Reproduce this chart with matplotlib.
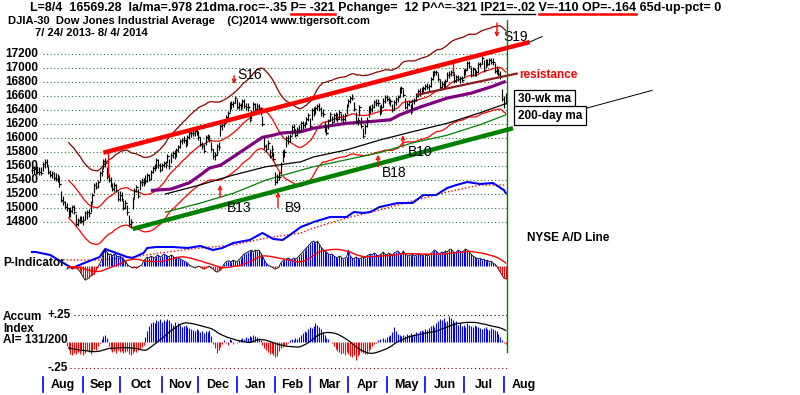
import numpy as np
import pandas as pd
import matplotlib
matplotlib.use('Agg')
import matplotlib.pyplot as plt
from matplotlib.lines import Line2D
from matplotlib.font_manager import FontProperties
from matplotlib.transforms import blended_transform_factory as btf

# ---------------- data (trading-day index 0 = 7/24/2013) ----------------
closes = [
15542,15555,15559,15521,15520,15500,15628,15658,15612,15518,15470,15498,15425,15419,15451,15337,15112,15081,15010,15002,
14897,14963,15010,14946,14776,14824,14840,14810,14834,14930,14937,14922,15063,15191,15326,15300,15376,15494,15529,15676,
15636,15451,15401,15334,15273,15328,15258,15129,15191,15133,14996,15072,14936,14776,14802,15126,15237,15301,15168,15373,
15371,15399,15392,15467,15413,15509,15570,15568,15680,15618,15546,15615,15639,15618,15747,15593,15762,15783,15751,15822,
15876,15962,15976,15968,15900,16010,16065,16073,16072,16098,16086,16008,15915,15889,15821,16020,16026,15973,15844,15739,
15755,15884,15875,16168,16179,16221,16294,16358,16479,16479,16505,16577,16441,16470,16425,16530,16462,16444,16437,16257,
16374,16482,16418,16459,16414,16374,16197,15879,15838,15929,15739,15849,15699,15373,15445,15441,15628,15795,15801,15994,
15964,16027,16154,16130,16041,16133,16104,16208,16180,16199,16273,16322,16168,16396,16361,16422,16453,16419,16351,16341,
16109,16066,16247,16337,16223,16332,16303,16276,16368,16269,16265,16323,16458,16533,16573,16572,16413,16246,16257,16438,
16170,16027,16174,16263,16425,16409,16449,16514,16502,16501,16361,16449,16535,16581,16559,16513,16531,16402,16519,16551,
16584,16696,16716,16614,16447,16492,16512,16374,16533,16543,16606,16676,16634,16699,16717,16743,16723,16738,16836,16924,
16943,16946,16844,16735,16776,16781,16808,16906,16921,16948,16937,16819,16868,16846,16851,16827,16956,16976,17068,17025,
16906,16985,16915,16944,17055,17061,17138,16977,17100,17052,17114,17087,17083,16961,16983,16913,16880,16563,16493,16569]

# daily high above close / low below close, in units of 15 points
hi_off15 = [
4,3,2,5,4,6,2,3,6,5,5,2,6,5,2,7,9,6,6,5, 7,3,2,6,9,2,3,5,3,2,2,4,2,2,2,5,2,2,3,2,
5,9,6,7,6,3,6,8,3,6,8,3,7,8,3,2,3,2,7,2, 4,2,5,2,5,2,2,4,2,5,6,2,2,4,2,7,2,2,5,2,
2,2,2,4,6,2,2,2,4,2,4,6,7,4,6,2,2,5,7,7, 3,2,5,2,2,2,2,2,2,3,2,2,8,3,5,2,6,4,4,8,
2,2,5,3,5,5,8,9,5,3,7,3,7,9,3,5,2,2,3,2, 5,2,2,5,6,2,5,2,4,2,2,2,8,2,5,2,2,5,6,5,
9,7,2,2,6,2,5,5,2,6,5,2,2,2,2,4,7,8,3,2, 9,8,2,2,2,4,2,2,4,4,7,2,2,2,4,5,2,6,2,2,
2,2,2,6,8,2,2,7,2,2,2,2,5,2,2,2,4,2,2,2, 2,2,6,7,3,2,2,2,2,2,4,7,2,4,2,4,2,2,2,5,
7,2,6,2,2,2,2,9,2,5,2,4,4,7,3,5,5,9,7,5]
lo_off15 = [
4,5,5,2,3,2,7,6,2,2,2,5,2,2,5,2,2,3,2,3, 2,6,5,2,2,5,4,2,5,7,6,3,8,8,7,2,6,7,5,8,
3,2,2,2,2,6,2,2,6,2,2,6,2,2,6,9,6,5,2,8, 4,6,3,6,2,7,5,3,7,3,2,5,4,3,7,2,8,5,3,6,
5,7,4,3,2,7,5,4,3,5,3,2,2,3,2,8,4,2,2,3, 5,8,3,9,4,4,5,5,7,4,4,5,2,4,2,6,2,3,3,2,
7,6,2,6,2,3,2,2,3,6,2,7,2,3,6,3,9,9,5,8, 3,6,7,3,2,7,2,6,3,4,5,5,2,9,3,5,4,2,2,3,
2,2,8,6,2,7,3,3,6,2,3,5,8,6,5,2,2,2,5,8, 2,2,8,7,8,3,5,6,3,3,2,6,6,5,2,2,5,2,7,5,
5,7,5,2,2,5,4,2,8,4,5,6,2,5,4,4,2,4,7,6, 4,3,2,2,5,4,5,6,4,4,2,2,5,2,4,2,7,5,6,2,
2,7,2,4,7,3,5,2,7,2,5,2,3,2,5,2,2,2,4,6]

p_indicator = [
-25,-50,-25,0,25,0,-25,25,50,25,0,-25,-50,-50,-25,-50,
-25,-50,-25,-75,-50,-25,-75,-50,-50,-75,
-125,-200,-275,-350,-325,-300,-250,-225,-200,
-100,-25,50, 150,300,400,350,
275,300,250,300,275,225,250,200,175,125,
50,0,-25,-50,-25,-50,-25,0,25,
125,175,225,200,250,225,200,250,275,225,250,300,275,250,225,275,250,200,225,200,175,150,125,100,75,
25,0,-25,-50,-25,0,-25,-50,-75,-50,-25,0,-50,
-75,-125,-150,-125,-100,-50,
50,100,125,125,100,150,125,100,150,
200,250,300,325,350,375,400,350,400,375,400,325,250,
150,75,25,0,-25,-50,-75,-50,-25,
75,125,150,175,200,175,150,200,175,200,250,
300,350,400,450,500,550,600,625,575,625,
550,475,425,375,350,300,275,300,250,
225,200,250,225,175,200,225,400,250,200,175,225,200,175,200,225,200,
250,275,300,275,325,300,250,275,300,350,300,275,325,300,275,325,350,375,325,300,
375,300,275,250,275,300,250,275,300,275,250,275,300,250,275,300,
350,400,375,325,300,350,325,375,350,400,425,375,325,350,400,375,350,375,425,400,350,300,
250,225,200,175,200,150,175,125,150,100,125,75,
50,0,-75,-150,-225,-300,-321]

accum_index_x100 = [
-5,-3,-6,-8,-4,-2,-5,-7,-9,-6,-4,-3,-5,-8,-10,-7,-6,-9,-8,
-4,-8,-12,-13,-11,-12,
-10,-12,-9,-13,-11,-8,-10,-12,-9,-7,-8,-4,-1,
2,5,6,3,
-4,-8,-10,-9,-11,-8,-10,-9,-11,-10,-9,-12,-13,
-11,-9,-10,-8,-7,-5,-3,
4,10,15,17,
18,17,20,19,21,18,20,19,21,20,
17,16,18,15,17,16,14,15,16,14,13,
12,11,10,12,11,9,10,8,10,9,11,
5,-2,-6,-11,-8,-5,
-2,1,-1,-3,2,1,-2,0,-1,1,
2,3,2,4,3,5,4,6,5,4,3,1,
-3,-6,-8,-10,-12,-11,-13,-15,-14,-9,
-6,-5,-4,-3,-1,1,2,1,3,2,4,
6,8,10,9,12,14,13,15,17,16,
14,12,9,6,3,2,0,-1,
-4,-7,-9,-10,-12,-11,-13,-10,-12,-14,-15,-13,-17,-14,-12,-10,-11,-12,
-12,-9,-7,-4,-2,
-1,1,2,0,3,2,4,5,
6,9,14,10,7,6,5,
6,5,7,6,8,6,7,9,8,10,11,10,12,11,13,15,
16,14,17,19,21,20,22,18,19,24,22,20,18,19,
16,17,15,16,14,17,16,15,14,16,15,14,13,
12,13,14,12,11,13,12,11,10,
7,4,1,-1,-2]

# NYSE A/D line (relative units) and its moving average
ad_day = [0,2,10,19,22,30,37,40,46,52,55,61,63,68,77,85,92,99,104,110,119,126,132,137,141,147,154,163,172,176,181,185,190,200,208,214,221,227,232,238,245,252,258,259]
ad_val = [18,18,15,5,2,8,13,21,17,13,12,17,22,23,23,22,24,20,22,27,30,37,31,30,35,43,48,53,53,58,57,58,63,67,67,75,75,82,85,88,86,87,80,77]
ad_ma_day = [19,37,55,74,92,110,128,147,154,172,190,208,227,245,259]
ad_ma_val = [10,10,13,18,22,25,32,37,42,52,60,69,78,85,85]

# longer moving averages
ma_purple_day = [65,76,86,92,97,103,110,118,126,132,136,147,154,172,183,196,201,212,227,240,252,259]
ma_purple_val = [15250,15270,15360,15470,15570,15610,15730,15870,16010,16040,16070,16090,16140,16210,16230,16260,16330,16440,16570,16640,16740,16810]
ma200_day = [73,92,110,128,147,154,172,190,208,227,245,259]
ma200_val = [15200,15330,15470,15590,15660,15730,15830,15970,16090,16210,16360,16490]
ma_green_day = [73,92,110,128,147,154,172,190,208,227,245,259]
ma_green_val = [14940,15070,15210,15400,15540,15590,15690,15790,15930,16040,16190,16330]

# trendlines (day, price)
upper_tl = ([39, 272], [15790, 17370])
upper_ext = ([272, 279], [17370, 17450])
lower_tl = ([55, 263], [14700, 16140])
lower_ext = ([270, 339], [16190, 16680])
resist_tl = ([211, 265], [16620, 16920])

price_ticks = [17200,17000,16800,16600,16400,16200,16000,15800,15600,15400,15200,15000,14800]
month_names = ['Aug','Sep','Oct','Nov','Dec','Jan','Feb','Mar','Apr','May','Jun','Jul','Aug']
month_start = [6,28,48,71,91,112,133,152,173,194,215,236,258]

# signals: label, text day, text price, arrow day, arrow from, arrow to
signals = [('S16',112,16900,110.5,16890,16770),
           ('S19',257.5,17450,254.2,17640,17440),
           ('B13',106.6,15000,102.8,15150,15330),
           ('B9',138.3,15000,134.5,15010,15230),
           ('B18',191.4,15500,189.2,15590,15760),
           ('B10',205.6,15800,202.8,15870,16040)]

assert len(closes) == 260 and len(hi_off15) == 260 and len(lo_off15) == 260
assert len(p_indicator) == 260 and len(accum_index_x100) == 260

# ---------------- layout ----------------
W, H = 800, 395
X0, DX = 32, 1.829
fig = plt.figure(figsize=(8, 3.95), dpi=100)
fig.patch.set_facecolor('white')
FONT = 'Liberation Sans'
plt.rcParams['font.family'] = [FONT, 'DejaVu Sans']

def lims(v_at, px_at, per_px):
    return (v_at - (H - px_at) * per_px, v_at + px_at * per_px)

xl = (-X0 / DX, (W - X0) / DX)

def mk(z, ylim):
    ax = fig.add_axes([0, 0, 1, 1], zorder=z)
    ax.set_xlim(*xl)
    ax.set_ylim(*ylim)
    ax.axis('off')
    return ax

def fy(px):
    return 1 - px / H

days = np.arange(260)
c = np.array(closes, float)
hi = c + np.array(hi_off15) * 15
lo = c - np.array(lo_off15) * 15
prev = np.concatenate([[c[0]], c[:-1]])
pv = np.array(p_indicator, float)
ai = np.array(accum_index_x100) / 100.0

ax_ad = mk(1, lims(0, 270, 1.0))
ax_p = mk(2, lims(0, 266, 25.0))
ax_ai = mk(3, lims(0, 341.5, 0.25 / 26.5))
ax = mk(4, lims(17200, 54, 1 / 0.07))

PPX = 1 / 0.07  # price per pixel (layout only)
def pp(px):
    return 17200 - (px - 54) * PPX

# price grid
for p in price_ticks:
    ax.hlines(p, 6, 259.7, colors='#2a7a2a', linestyles=(0, (1, 2.2)), lw=0.8, zorder=1)
    ax.text(5 / W, p, str(p), transform=btf(fig.transFigure, ax.transData),
            ha='left', va='center', fontsize=8.5, fontweight='bold')

# moving average bands
ma21 = pd.Series(c).rolling(21).mean().values
ax.plot(days, ma21 * 1.035, color='#8b0000', lw=0.9, zorder=2)
ax.plot(days, ma21 * 0.965, color='#ff0000', lw=0.9, zorder=2)
ax.plot(days, ma21, color='#ff0000', lw=0.9, zorder=2)
ax.plot(ma200_day, ma200_val, color='black', lw=0.9, zorder=2)
ax.plot(ma_green_day, ma_green_val, color='#008000', lw=0.9, zorder=2)
ax.plot(ma_purple_day, ma_purple_val, color='#800080', lw=2.3, zorder=3, solid_capstyle='butt')

# price bars (open tick = prior close, close tick)
ax.vlines(days, lo, hi, color='black', lw=0.85, zorder=4)
ax.hlines(c, days, days + 0.7, color='black', lw=0.85, zorder=4)
ax.hlines(prev, days - 0.7, days, color='black', lw=0.85, zorder=4)

# trendlines
ax.plot(*upper_tl, color='#ff0000', lw=3.2, zorder=5, solid_capstyle='butt')
ax.plot(*upper_ext, color='black', lw=0.7, zorder=5)
ax.plot(*lower_tl, color='#008000', lw=3.2, zorder=5, solid_capstyle='butt')
ax.plot(*lower_ext, color='black', lw=0.7, zorder=5)
ax.plot(*resist_tl, color='#8b1a1a', lw=1.6, zorder=5)
ax.text(266.5, 16900, 'resistance', color='#ff0000', fontsize=8.5, fontweight='bold',
        ha='left', va='center', zorder=6)

# signals
for lab, tx, ty, axd, a0, a1 in signals:
    ax.text(tx, ty, lab, fontsize=10, ha='left', va='center', zorder=7)
    ax.annotate('', xy=(axd, a1), xytext=(axd, a0),
                arrowprops=dict(arrowstyle='->', color='#ff0000', lw=1.0,
                                shrinkA=0, shrinkB=0, mutation_scale=6), zorder=7)
for d, p0, p1 in [(41.5, 15800, 15450), (230.2, 17070, 16900)]:
    ax.plot([d, d], [p0, p1], color='#ff0000', lw=1.0, zorder=6)

# last-day vertical line
ax.plot([259.7, 259.7], [pp(20), pp(352)], color='#008000', lw=1.0, zorder=8)

# MA label boxes
for txt, yy in [('30-wk ma', 99.5), ('200-day ma', 115.5)]:
    fig.text(518 / W, fy(yy), txt, fontsize=8.5, fontweight='bold', ha='left', va='center',
             zorder=10, bbox=dict(boxstyle='square,pad=0.3', fc='white', ec='black', lw=0.9))

# A/D line
ax_ad.plot(ad_ma_day, ad_ma_val, color='#ff0000', lw=1.0, ls=(0, (1, 1.5)))
ax_ad.plot(ad_day, ad_val, color='#0000ff', lw=1.5)
fig.text(527 / W, fy(238), 'NYSE A/D Line', fontsize=8.5, fontweight='bold', ha='left', va='center')

# P-Indicator
st = 19
ax_p.plot(days[st:], pv[st:], color='black', lw=0.6, zorder=1)
pos = pv >= 0
ax_p.vlines(days[st:][pos[st:]], 0, pv[st:][pos[st:]], color='#0000ff', lw=0.8, zorder=2)
ax_p.vlines(days[st:][~pos[st:]], 0, pv[st:][~pos[st:]], color='#ff0000', lw=0.8, zorder=2)
ax_p.plot(days, pd.Series(pv).rolling(21).mean().values, color='#ff0000', lw=1.0, zorder=3)
fig.text(3 / W, fy(263), 'P-Indicator', fontsize=8.5, fontweight='bold', ha='left', va='center', zorder=10)

# Accumulation Index
pos = ai >= 0
ax_ai.vlines(days[st:][pos[st:]], 0, ai[st:][pos[st:]], color='#0000ff', lw=0.8, zorder=2)
ax_ai.vlines(days[st:][~pos[st:]], 0, ai[st:][~pos[st:]], color='#ff0000', lw=0.8, zorder=2)
ax_ai.plot(days, pd.Series(ai).rolling(21).mean().values, color='black', lw=0.9, zorder=3)
ax_ai.hlines(0.25, 23, 259.7, colors='black', linestyles=(0, (1, 2.5)), lw=0.8)
ax_ai.hlines(-0.25, 21, 259.7, colors='#8b0000', linestyles=(0, (1, 2.5)), lw=0.8)
ax_ai.text(47 / W, 0.25, '+.25', transform=btf(fig.transFigure, ax_ai.transData),
           fontsize=8.5, fontweight='bold', ha='left', va='center')
ax_ai.text(47 / W, -0.25, '-.25', transform=btf(fig.transFigure, ax_ai.transData),
           fontsize=8.5, fontweight='bold', ha='left', va='center')
for t, yy in [('Accum', 317), ('Index', 329), ('AI= 131/200', 340)]:
    fig.text(3 / W, fy(yy), t, fontsize=8.5, fontweight='bold', ha='left', va='center', zorder=10)

# month axis
tb = btf(ax.transData, fig.transFigure)
for k, (m, s) in enumerate(zip(month_names, month_start)):
    ax.plot([s, s], [fy(377), fy(392)], color='#0000ff', lw=1.2, transform=tb, clip_on=False)
    nxt = month_start[k + 1] if k + 1 < len(month_start) else s + 22
    ax.text((s + nxt) / 2, fy(385), m, transform=tb, fontsize=9, fontweight='bold',
            ha='center', va='center')

# header text
line1 = 'L=8/4  16569.28  la/ma=.978 21dma.roc=-.35 P= -321 Pchange=  12 P^^=-321 IP21=-.02 V=-110 OP=-.164 65d-up-pct= 0'
fp1 = FontProperties(family=FONT, weight='bold', size=9)
fp = FontProperties(family=FONT, weight='bold', size=8)
fig.text(30 / W, fy(7.5), line1, fontproperties=fp1, ha='left', va='center')
fig.text(8 / W, fy(21.5), 'DJIA-30  Dow Jones Industrial Average    (C)2014 www.tigersoft.com',
         fontproperties=fp, ha='left', va='center')
fig.text(35 / W, fy(33.5), '7/ 24/ 2013- 8/ 4/ 2014', fontproperties=fp, ha='left', va='center')

r = fig.canvas.get_renderer()
def tw(s):
    a = r.get_text_width_height_descent(s + '|', fp1, ismath=False)[0]
    b = r.get_text_width_height_descent('|', fp1, ismath=False)[0]
    return a - b

for seg, col, lw in [('P= -321', '#ff0000', 1.8), ('IP21=-.02', 'black', 1.0), ('V=-110 OP=-.164', '#ff0000', 1.8)]:
    k = line1.index(seg)
    xa = 30 + tw(line1[:k])
    xb = 30 + tw(line1[:k + len(seg)])
    fig.add_artist(Line2D([xa / W, xb / W], [fy(14)] * 2, transform=fig.transFigure, color=col, lw=lw))

fig.savefig('out.png', dpi=100, facecolor='white')
